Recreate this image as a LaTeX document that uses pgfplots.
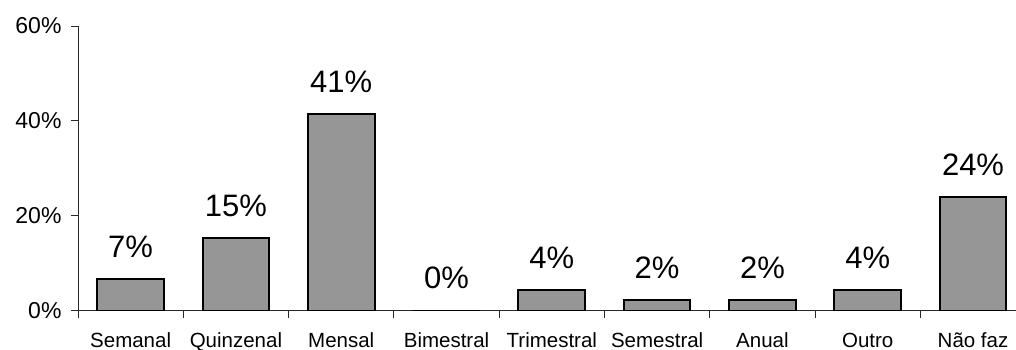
\documentclass[border=0pt]{standalone}
\usepackage{fontspec}
\setmainfont{Liberation Sans}
\usepackage{pgfplots}
\pgfplotsset{compat=1.18}
\definecolor{barfill}{RGB}{150,150,150}
\definecolor{axisgray}{RGB}{40,40,40}

\begin{document}
\begin{tikzpicture}
\begin{axis}[
  at={(0pt,0pt)}, anchor=south west,
  scale only axis,
  width=938pt, height=284.5pt,
  xmin=-0.5, xmax=8.408,
  ymin=0, ymax=60,
  axis lines*=left,
  axis line style={draw=axisgray, line width=0.9pt},
  tick style={draw=axisgray, line width=0.9pt},
  tick align=outside,
  tick pos=left,
  major tick length=7pt,
  minor tick length=7pt,
  xtick={0,...,8},
  xticklabels={Semanal,Quinzenal,Mensal,Bimestral,Trimestral,Semestral,Anual,Outro,Não faz},
  major x tick style={draw=none},
  minor xtick={-0.5,0.5,...,7.5},
  ytick={0,20,40,60},
  yticklabel={\pgfmathprintnumber{\tick}\%},
  /pgf/number format/assume math mode=true,
  x tick label style={font=\fontsize{20.5}{24}\selectfont, anchor=base, yshift=-29.5pt},
  y tick label style={font=\fontsize{23}{27}\selectfont, xshift=-6pt},
  ybar, bar width=66.7pt,
  point meta=y,
  nodes near coords={\pgfmathprintnumber[fixed,precision=0]{\pgfplotspointmeta}\%},
  every node near coord/.append style={font=\fontsize{31}{36}\selectfont, anchor=base, yshift=22pt, text=black},
]
\addplot[fill=barfill, draw=black, line width=2pt] coordinates {
  (0,6.6) (1,15.2) (2,41.4) (3,0) (4,4.3) (5,2.15) (6,2.15) (7,4.3) (8,23.9)
};
\end{axis}
\pgfresetboundingbox
\path[use as bounding box] (-78pt,-39.5pt) rectangle (938pt,310.5pt);
\end{tikzpicture}
\end{document}
